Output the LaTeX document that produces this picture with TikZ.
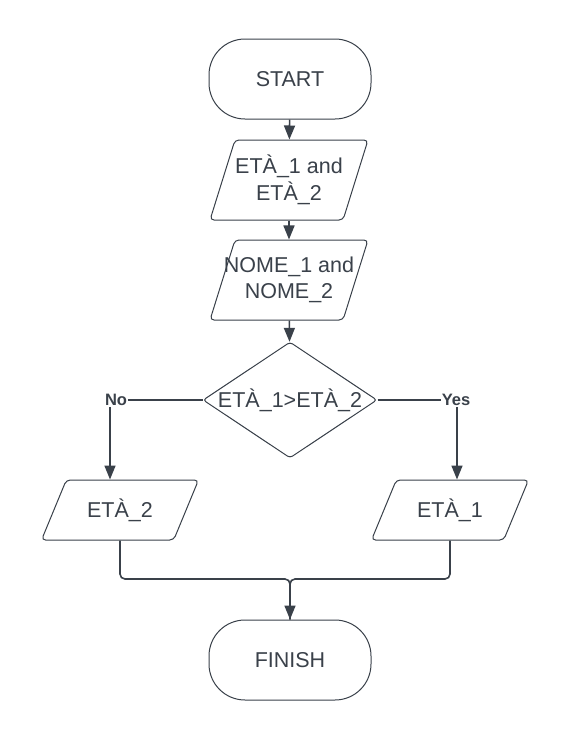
\documentclass[tikz,border=0pt]{standalone}
\usepackage{fontspec}
\setmainfont{Liberation Sans}
\usetikzlibrary{shapes.geometric}
\usetikzlibrary{arrows.meta}
\definecolor{ink}{HTML}{3A414A}
\tikzset{
  terminal/.style={draw=ink, line width=1pt, rounded corners=36pt, minimum width=162pt, minimum height=80pt},
  io/.style={draw=ink, line width=1pt, trapezium, trapezium left angle=77, trapezium right angle=103,
    trapezium stretches=true, rounded corners=4pt, inner sep=2pt},
  decision/.style={draw=ink, line width=1pt, diamond, minimum width=174pt, minimum height=116pt,
    inner sep=2pt, rounded corners=3pt},
  txt/.style={text=ink, font=\fontsize{21.5}{26.5}\selectfont, align=center, inner sep=0pt},
  branch/.style={text=ink, font=\fontsize{16.5}{20}\selectfont\bfseries, inner sep=1pt},
  arr/.style={draw=ink, line width=1.6pt, -{Triangle[width=11pt,length=14pt]}},
  link/.style={draw=ink, line width=1.6pt},
}
\begin{document}
\begin{tikzpicture}[x=1pt, y=-1pt]
	\useasboundingbox[fill=white] (0,0) rectangle (570,740);
	% shapes
	\node[terminal, txt] (start) at (290,79) {START};
	\node[io, minimum width=158pt, minimum height=80pt] (eta) at (289,180) {};
	\node[txt] (eta-t) at (eta) {ETÀ\_1 and\\ETÀ\_2};
	\node[io, minimum width=158pt, minimum height=80pt] (nome) at (289,280) {};
	\node[txt] (nome-t) at (nome) {NOME\_1 and\\NOME\_2};
	\node[decision] (cmp) at (290,400) {};
	\node[txt] (cmp-t) at (cmp) {ETÀ\_1>ETÀ\_2};
	\node[branch] (no) at (116,400) {No};
	\node[branch] (yes) at (456,400) {Yes};
	\node[io, minimum width=157pt, minimum height=60pt] (out2) at (120,510) {};
	\node[txt] (out2-t) at (out2) {ETÀ\_2};
	\node[io, minimum width=157pt, minimum height=60pt] (out1) at (450,510) {};
	\node[txt] (out1-t) at (out1) {ETÀ\_1};
	\node[terminal, txt] (finish) at (290,660) {FINISH};
	% connectors
	\draw[arr] (start) -- (eta);
	\draw[arr] (eta) -- (nome);
	\draw[arr] (nome) -- (cmp);
	\draw[link] (cmp.west) -- (no.east);
	\draw[link] (cmp.east) -- (yes.west);
	\draw[arr] ([xshift=-10pt]out2.north |- no.south) -- ([xshift=-10pt]out2.north);
	\draw[arr] ([xshift=7pt]out1.north |- yes.south) -- ([xshift=7pt]out1.north);
	\coordinate (join) at (290,579);
	\draw[link, rounded corners=5pt] (out2.south) |- (join) -- (finish.north);
	\draw[arr, rounded corners=5pt] (out1.south) |- (join) -- (finish.north);
\end{tikzpicture}
\end{document}
